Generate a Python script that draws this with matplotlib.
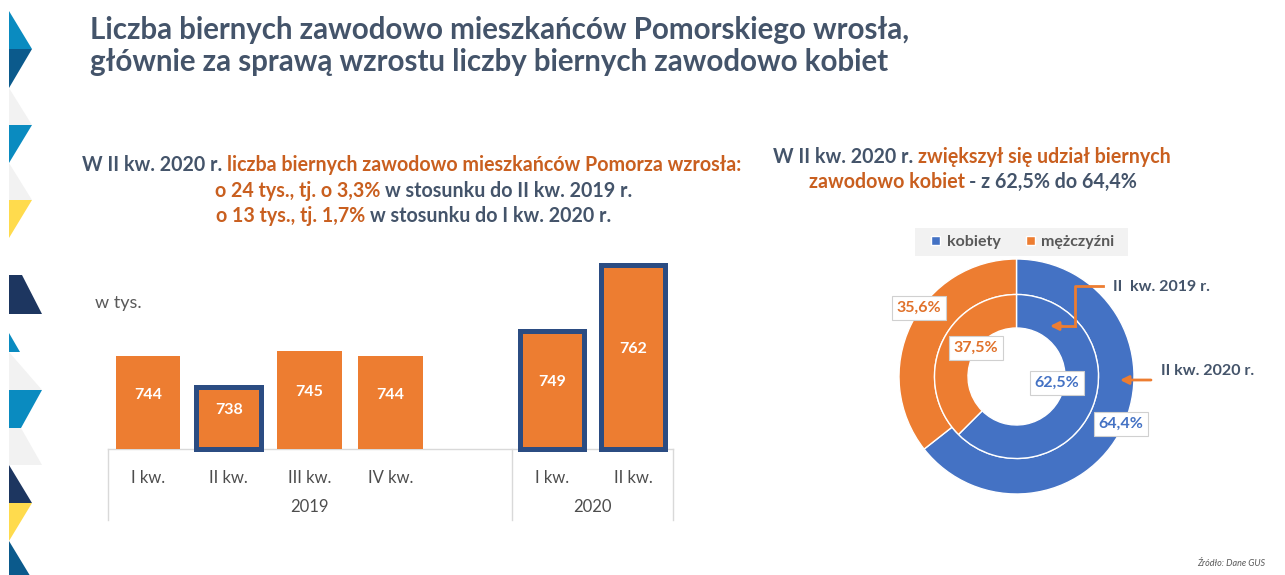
import numpy as np
import matplotlib
matplotlib.use("Agg")
import matplotlib.pyplot as plt
from matplotlib.patches import Polygon, Rectangle
from matplotlib.lines import Line2D

# --- data ---
quarters = ["I kw.", "II kw.", "III kw.", "IV kw.", "I kw.", "II kw."]
years = ["2019", "2020"]
inactive = [744, 738, 745, 744, 749, 762]          # w tys.
highlight = [False, True, False, False, True, True]
bar_pos = [0, 1, 2, 3, 5, 6]

sex_labels = ["kobiety", "mężczyźni"]
share_2020 = [64.4, 35.6]
share_2019 = [62.5, 37.5]

W, H = 1285, 575
FONT = ["Lato", "Open Sans", "DejaVu Sans"]
plt.rcParams["font.family"] = FONT

ORANGE = "#ED7D31"
BLUE = "#4472C4"
NAVY_EDGE = "#2B4C82"
TXT = "#44546A"
OTXT = "#C95F1F"
GREY = "#4D4D4D"

fig = plt.figure(figsize=(W / 100, H / 100), dpi=100)
fig.patch.set_facecolor("white")
r = fig.canvas.get_renderer()


def fx(x):
    return x / W


def fy(y):
    return 1 - y / H


def width_of(t):
    return t.get_window_extent(r).width


def fit_size(s, target, size0=16, weight="bold"):
    t = fig.text(0, 0, s, fontsize=size0, fontweight=weight)
    w = width_of(t)
    t.remove()
    return size0 * target / w


def rich_line(parts, xc, y, size):
    # parts: list of (text, colour); a gap is added between parts
    probe = fig.text(0, 0, "x x", fontsize=size, fontweight="bold")
    probe2 = fig.text(0, 0, "xx", fontsize=size, fontweight="bold")
    gap = width_of(probe) - width_of(probe2)
    probe.remove()
    probe2.remove()
    items = []
    for s, c in parts:
        t = fig.text(0, fy(y), s, color=c, fontsize=size, fontweight="bold",
                     va="center", ha="left")
        items.append((t, width_of(t)))
    total = sum(w for _, w in items) + gap * (len(items) - 1)
    x = xc - total / 2
    for t, w in items:
        t.set_x(fx(x))
        x += w + gap


# --- left decoration strip ---
cyan, dblue, navy, yellow, lgray = "#0A8BC0", "#0B5A8C", "#1D3660", "#FFDB4D", "#F2F2F2"
deco = [
    (cyan, [(9, 11), (32, 49), (9, 49)]),
    (dblue, [(9, 49), (32, 49), (9, 88)]),
    (lgray, [(9, 88), (32, 125), (9, 125)]),
    (cyan, [(9, 125), (32, 125), (9, 163)]),
    (lgray, [(9, 163), (32, 200), (9, 200)]),
    (yellow, [(9, 200), (32, 200), (9, 238)]),
    (navy, [(9, 275), (22, 275), (42, 314), (9, 314)]),
    (cyan, [(9, 333), (20, 352), (9, 352)]),
    (lgray, [(9, 352), (42, 390), (9, 390)]),
    (cyan, [(9, 390), (42, 390), (21, 428), (9, 428)]),
    (lgray, [(9, 428), (21, 428), (42, 465), (9, 465)]),
    (navy, [(9, 465), (32, 503), (9, 503)]),
    (yellow, [(9, 503), (32, 503), (9, 541)]),
    (dblue, [(9, 541), (32, 579), (9, 579)]),
]
for col, pts in deco:
    fig.add_artist(Polygon([(fx(a), fy(b)) for a, b in pts], closed=True,
                           facecolor=col, edgecolor="none",
                           transform=fig.transFigure))

# --- title ---
t1 = "Liczba biernych zawodowo mieszkańców Pomorskiego wrosła,"
t2 = "głównie za sprawą wzrostu liczby biernych zawodowo kobiet"
ts = fit_size(t1, 823)
fig.text(fx(90), fy(30), t1, fontsize=ts, fontweight="bold", color=TXT, va="center")
fig.text(fx(90), fy(62), t2, fontsize=ts, fontweight="bold", color=TXT, va="center")

# --- subtitles ---
ss = fit_size("W II kw. 2020 r. liczba biernych zawodowo mieszkańców Pomorza wzrosła:", 659)
rich_line([("W II kw. 2020 r.", TXT),
           ("liczba biernych zawodowo mieszkańców Pomorza wzrosła:", OTXT)], 412, 165, ss)
rich_line([("o 24 tys., tj. o 3,3%", OTXT),
           ("w stosunku do II kw. 2019 r.", TXT)], 424, 191, ss)
rich_line([("o 13 tys., tj. 1,7%", OTXT),
           ("w stosunku do I kw. 2020 r.", TXT)], 414, 216, ss)

rich_line([("W II kw. 2020 r.", TXT),
           ("zwiększył się udział biernych", OTXT)], 972, 157, ss)
rich_line([("zawodowo kobiet", OTXT),
           ("- z 62,5% do 64,4%", TXT)], 973, 182, ss)

# --- bar chart ---
base = 725.7
px_per_unit = 5.08
ax_top, ax_bot = 255, 449
ax = fig.add_axes([fx(107.6), fy(ax_bot), fx(673.3) - fx(107.6), (ax_bot - ax_top) / H])
ax.set_xlim(-0.5, 6.5)
ax.set_ylim(base, base + (ax_bot - ax_top) / px_per_unit)
vals = np.array(inactive, dtype=float)
bars = ax.bar(bar_pos, vals - base, bottom=base, width=0.8, color=ORANGE,
              edgecolor=[NAVY_EDGE if h else ORANGE for h in highlight],
              linewidth=[3.6 if h else 0 for h in highlight], clip_on=False, zorder=3)
for p, v in zip(bar_pos, inactive):
    ax.text(p, (base + v) / 2 + 1.5, str(v), ha="center", va="center",
            color="white", fontsize=11.5, fontweight="bold", zorder=4)

for s in ["top", "right", "left"]:
    ax.spines[s].set_visible(False)
ax.spines["bottom"].set_color("#D9D9D9")
ax.spines["bottom"].set_linewidth(1)
ax.set_yticks([])
ax.set_xticks(bar_pos, quarters)
ax.tick_params(axis="x", length=0, pad=15, labelsize=12, labelcolor=GREY)
ax.patch.set_alpha(0)

drop = 71 / (ax_bot - ax_top)
xt = ax.get_xaxis_transform()
for xv in [-0.5, 4.5, 6.5]:
    ax.plot([xv, xv], [0, -drop], color="#D9D9D9", lw=1, transform=xt, clip_on=False)
year_y = -(507 - ax_bot) / (ax_bot - ax_top)
for yl, xc in zip(years, [2, 5.5]):
    ax.text(xc, year_y, yl, transform=xt, ha="center", va="center",
            fontsize=12, color=GREY)

fig.text(fx(95), fy(303), "w tys.", fontsize=13, color="#595959", va="center")

# --- donut ---
cx, cy, R = 1016.5, 376.5, 117.5
half = 150
dax = fig.add_axes([fx(cx - half), fy(cy + half), 2 * half / W, 2 * half / H])
lim = half / R
dax.set_aspect("equal")
dax.axis("off")
cols = [BLUE, ORANGE]
r_mid = 82 / R
w_outer, _ = dax.pie(share_2020, radius=1.0, colors=cols, startangle=90,
                     counterclock=False,
                     wedgeprops=dict(width=1.0 - r_mid, edgecolor="white", linewidth=1))
dax.pie(share_2019, radius=r_mid, colors=cols, startangle=90, counterclock=False,
        wedgeprops=dict(width=r_mid - 48.5 / R, edgecolor="white", linewidth=1))
dax.set_xlim(-lim, lim)
dax.set_ylim(-lim, lim)


def fmt(v):
    return f"{v:.1f}".replace(".", ",") + "%"


lab_px = {("2020", 1): (919, 308), ("2019", 1): (976, 348),
          ("2019", 0): (1057, 383), ("2020", 0): (1121, 424)}
for (yr, i), (lx, ly) in lab_px.items():
    v = (share_2020 if yr == "2020" else share_2019)[i]
    dax.text((lx - cx) / R, -(ly - cy) / R, fmt(v), ha="center", va="center",
             color=cols[i] if i == 0 else "#E0712A", fontsize=11.5, fontweight="bold",
             bbox=dict(boxstyle="square,pad=0.3", fc="white", ec="#D0D0D0", lw=0.8))

# legend
fig.add_artist(Rectangle((fx(915), fy(256)), fx(1128) - fx(915), 28 / H,
                         facecolor="#F2F2F2", edgecolor="none", transform=fig.transFigure))
fig.legend(w_outer, sex_labels, loc="center", bbox_to_anchor=(fx(1023), fy(242)),
           ncol=2, frameon=False, handlelength=0.55, handleheight=0.55,
           handletextpad=0.4, columnspacing=1.6,
           prop=dict(family=FONT, weight="bold", size=11.5), labelcolor="#595959")

# arrows
fig.add_artist(Line2D([fx(1103), fx(1075), fx(1075)], [fy(286), fy(286), fy(326)],
                      color=ORANGE, lw=2, transform=fig.transFigure))
fig.add_artist(Line2D([fx(1075), fx(1061)], [fy(326), fy(326)],
                      color=ORANGE, lw=2, transform=fig.transFigure))
dax.annotate("", xy=(1050, H - 326), xytext=(1062, H - 326), xycoords="figure pixels",
             textcoords="figure pixels",
             arrowprops=dict(arrowstyle="-|>,head_length=0.5,head_width=0.25",
                             color=ORANGE, lw=2, shrinkA=0, shrinkB=0))
dax.annotate("", xy=(1120, H - 380), xytext=(1151, H - 380), xycoords="figure pixels",
             textcoords="figure pixels",
             arrowprops=dict(arrowstyle="-|>,head_length=0.5,head_width=0.25",
                             color=ORANGE, lw=2, shrinkA=0, shrinkB=0))
fig.text(fx(1113), fy(287), "II  kw. 2019 r.", fontsize=11.5, fontweight="bold",
         color=TXT, va="center")
fig.text(fx(1161), fy(371), "II kw. 2020 r.", fontsize=11.5, fontweight="bold",
         color=TXT, va="center")

fig.text(fx(1265), fy(563), "Źródło: Dane GUS", fontsize=6.5, style="italic",
         color="#595959", ha="right", va="center")

fig.savefig("out.png", dpi=100)
